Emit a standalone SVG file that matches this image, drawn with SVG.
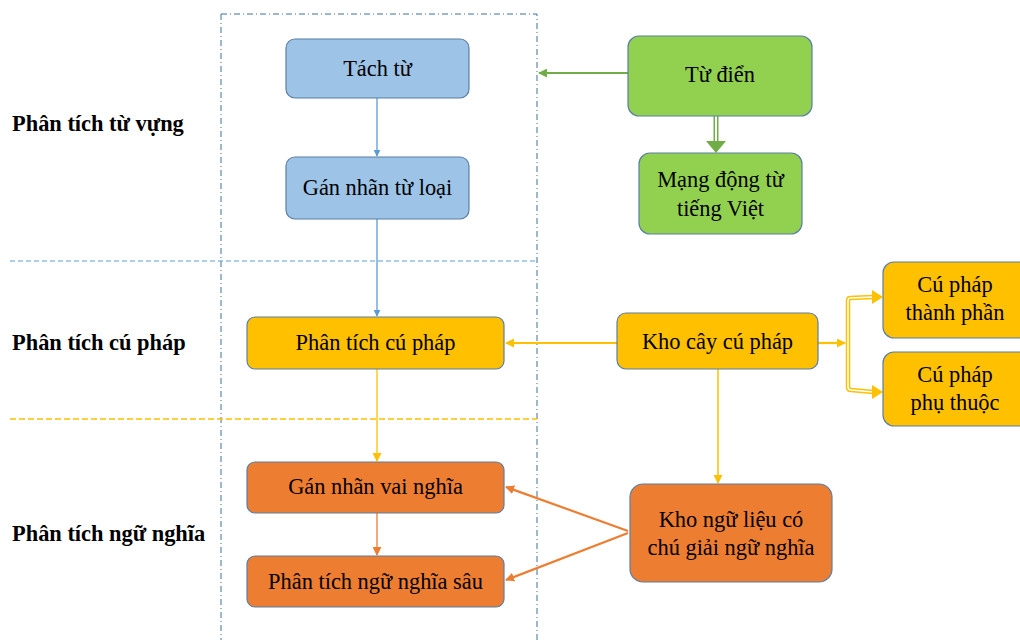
<svg xmlns="http://www.w3.org/2000/svg" width="1020" height="640" viewBox="0 0 1020 640">
<defs>
<style>
.t{font-family:"Liberation Serif","Times New Roman",serif;font-size:22.4px;fill:#000;text-anchor:middle}
.lb{font-family:"Liberation Serif","Times New Roman",serif;font-size:22.4px;font-weight:bold;fill:#000}
.n{stroke:#5B7FA6;stroke-width:1.2}
.blue{fill:#9DC3E6}
.green{fill:#92D050}
.yel{fill:#FFC000}
.org{fill:#ED7D31}
</style>
<marker id="ab" viewBox="0 0 10 10" refX="9" refY="5" markerWidth="7" markerHeight="7" markerUnits="userSpaceOnUse" orient="auto"><path d="M0,0L10,5L0,10z" fill="#5B9BD5"/></marker>
<marker id="ag" viewBox="0 0 10 10" refX="9" refY="5" markerWidth="9" markerHeight="9" markerUnits="userSpaceOnUse" orient="auto"><path d="M0,0L10,5L0,10z" fill="#70AD47"/></marker>
<marker id="ay" viewBox="0 0 10 10" refX="9" refY="5" markerWidth="9" markerHeight="9" markerUnits="userSpaceOnUse" orient="auto"><path d="M0,0L10,5L0,10z" fill="#FFC000"/></marker>
<marker id="ao" viewBox="0 0 10 10" refX="9" refY="5" markerWidth="9" markerHeight="9" markerUnits="userSpaceOnUse" orient="auto"><path d="M0,0L10,5L0,10z" fill="#ED7D31"/></marker>
</defs>
<rect width="1020" height="640" fill="#fff"/>

<g id="frames" fill="none">
<path d="M221,14H537V640M221,14V640" stroke="#41719C" stroke-width="1" stroke-dasharray="6,3,1,3"/>
<line x1="10" y1="261" x2="537" y2="261" stroke="#5B9BD5" stroke-width="1" stroke-dasharray="5,3"/>
<line x1="10" y1="419" x2="537" y2="419" stroke="#FFC000" stroke-width="1.3" stroke-dasharray="6,3"/>
</g>

<g id="labels">
<text class="lb" x="12" y="131">Phân tích từ vựng</text>
<text class="lb" x="12" y="350">Phân tích cú pháp</text>
<text class="lb" x="12" y="541">Phân tích ngữ nghĩa</text>
</g>

<g id="connectors" fill="none">
<line x1="377" y1="98" x2="377" y2="156" stroke="#5B9BD5" stroke-width="1.3" marker-end="url(#ab)"/>
<line x1="377" y1="219" x2="377" y2="316" stroke="#5B9BD5" stroke-width="1.3" marker-end="url(#ab)"/>
<line x1="628" y1="73" x2="539" y2="73" stroke="#70AD47" stroke-width="2.2" marker-end="url(#ag)"/>
<line x1="716" y1="116" x2="716" y2="142" stroke="#70AD47" stroke-width="5"/>
<line x1="716" y1="116" x2="716" y2="142" stroke="#fff" stroke-width="2"/>
<path d="M706,141L726,141L716,153z" fill="#70AD47"/>
<line x1="617" y1="343" x2="506" y2="343" stroke="#FFC000" stroke-width="2.2" marker-end="url(#ay)"/>
<line x1="377" y1="369" x2="377" y2="461" stroke="#FFC000" stroke-width="1.3" marker-end="url(#ay)"/>
<line x1="718" y1="369" x2="718" y2="483" stroke="#FFC000" stroke-width="1.5" marker-end="url(#ay)"/>
<line x1="818" y1="343" x2="845" y2="343" stroke="#FFC000" stroke-width="2.2" marker-end="url(#ay)"/>
<path d="M873,297L850,298Q848,298 848,301V387Q848,390 851,390L873,392" stroke="#FFC000" stroke-width="4.5"/>
<path d="M873,297L850,298Q848,298 848,301V387Q848,390 851,390L873,392" stroke="#fff" stroke-width="1.6"/>
<path d="M872,290L883,297L872,304z" fill="#FFC000"/>
<path d="M872,385L883,392L872,399z" fill="#FFC000"/>
<line x1="377" y1="513" x2="377" y2="555" stroke="#ED7D31" stroke-width="1.3" marker-end="url(#ao)"/>
<line x1="628" y1="531" x2="506" y2="487" stroke="#ED7D31" stroke-width="2.2" marker-end="url(#ao)"/>
<line x1="628" y1="533" x2="506" y2="580" stroke="#ED7D31" stroke-width="2.2" marker-end="url(#ao)"/>
</g>

<g id="n-tachtu">
<rect class="n blue" x="286" y="39" width="183" height="59" rx="9"/>
<text class="t" x="377.5" y="76">Tách từ</text>
</g>
<g id="n-gannhantuloai">
<rect class="n blue" x="286" y="157" width="183" height="62" rx="9"/>
<text class="t" x="377.5" y="195">Gán nhãn từ loại</text>
</g>
<g id="n-tudien">
<rect class="n green" x="628" y="36" width="184" height="80" rx="11"/>
<text class="t" x="720" y="82">Từ điển</text>
</g>
<g id="n-mangdongtu">
<rect class="n green" x="639" y="153" width="163" height="81" rx="11"/>
<text class="t" x="720.5" y="187">Mạng động từ</text>
<text class="t" x="720.5" y="216">tiếng Việt</text>
</g>
<g id="n-phantichcuphap">
<rect class="n yel" x="247" y="317" width="257" height="52" rx="8"/>
<text class="t" x="375.5" y="350">Phân tích cú pháp</text>
</g>
<g id="n-khocaycuphap">
<rect class="n yel" x="617" y="313" width="201" height="56" rx="9"/>
<text class="t" x="717.5" y="349">Kho cây cú pháp</text>
</g>
<g id="n-thanhphan">
<rect class="n yel" x="883" y="262" width="150" height="76" rx="11"/>
<text class="t" x="955" y="292">Cú pháp</text>
<text class="t" x="955" y="320">thành phần</text>
</g>
<g id="n-phuthuoc">
<rect class="n yel" x="883" y="352" width="150" height="74" rx="11"/>
<text class="t" x="955" y="382">Cú pháp</text>
<text class="t" x="955" y="410">phụ thuộc</text>
</g>
<g id="n-gannhanvainghia">
<rect class="n org" x="247" y="462" width="257" height="51" rx="8"/>
<text class="t" x="375.5" y="494">Gán nhãn vai nghĩa</text>
</g>
<g id="n-ptnnsau">
<rect class="n org" x="247" y="556" width="257" height="51" rx="8"/>
<text class="t" x="375.5" y="589">Phân tích ngữ nghĩa sâu</text>
</g>
<g id="n-khonguieu">
<rect class="n org" x="630" y="484" width="202" height="98" rx="13"/>
<text class="t" x="731" y="527">Kho ngữ liệu có</text>
<text class="t" x="731" y="555">chú giải ngữ nghĩa</text>
</g>
</svg>
